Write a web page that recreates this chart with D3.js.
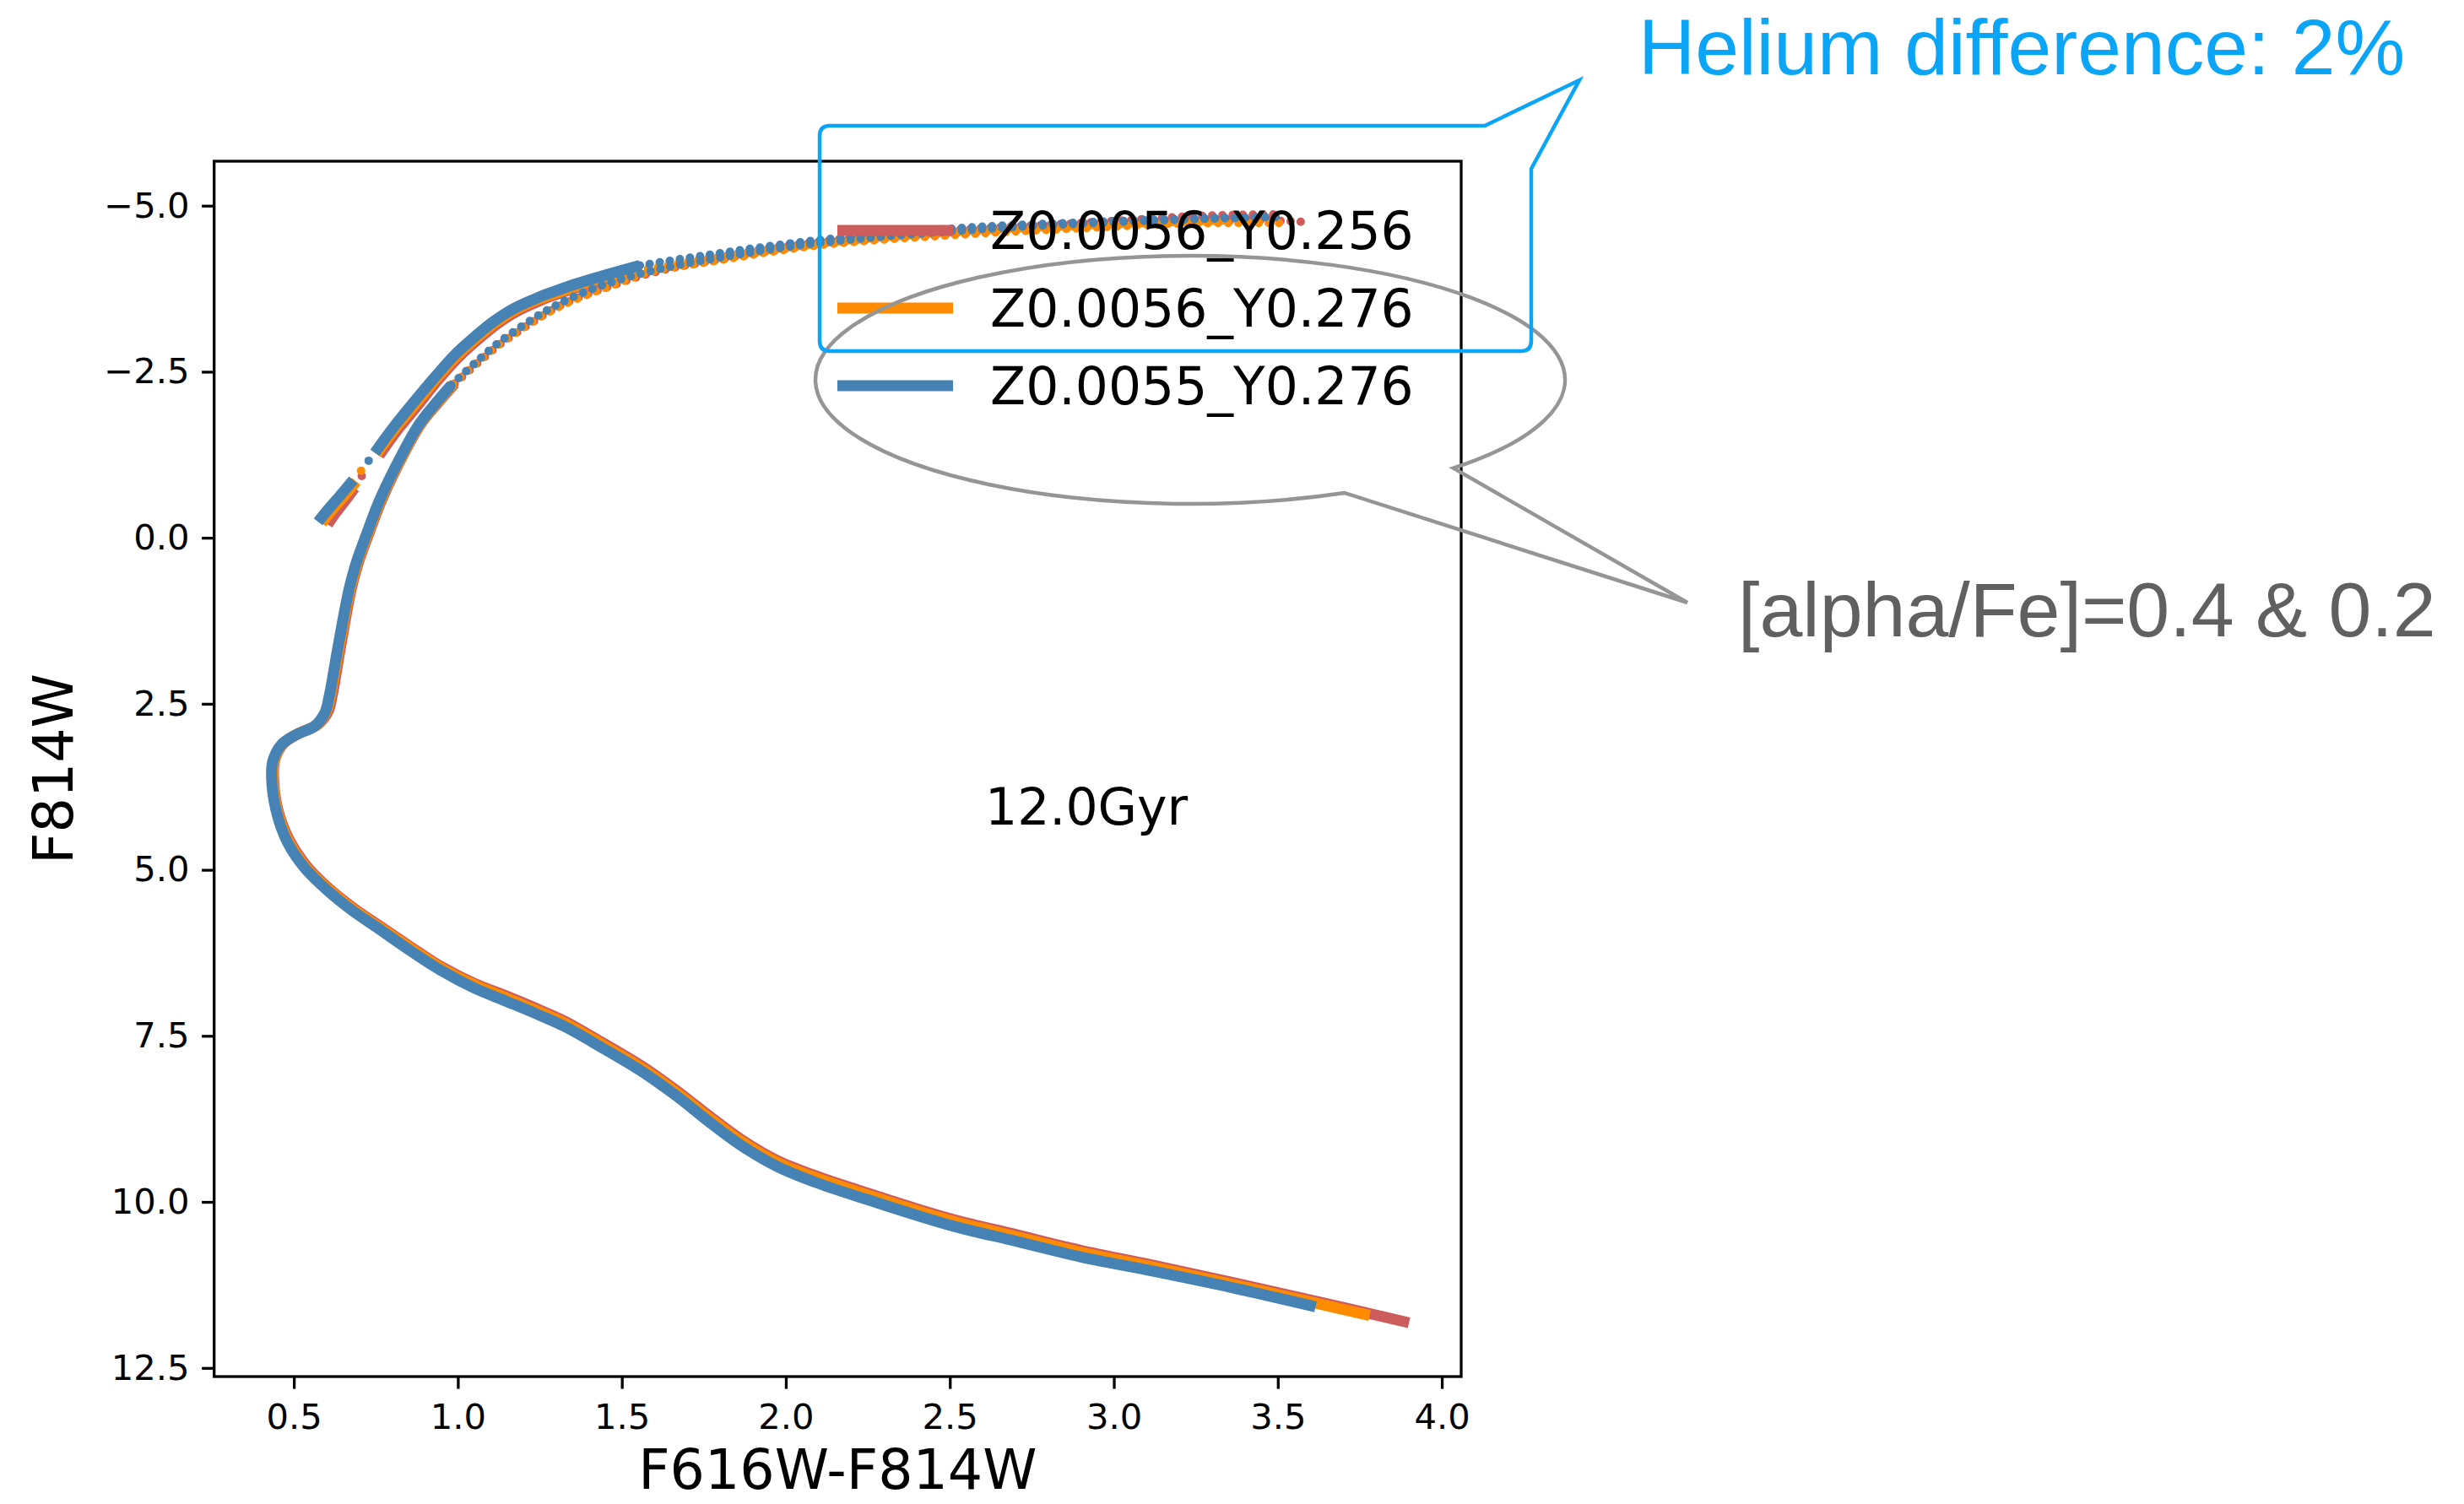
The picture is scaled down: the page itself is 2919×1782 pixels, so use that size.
<!DOCTYPE html>
<html>
<head>
<meta charset="utf-8">
<script src="https://cdn.jsdelivr.net/npm/d3@7"></script>
<style>
  html, body { margin: 0; padding: 0; background: #ffffff; }
  svg { display: block; }
</style>
</head>
<body>
<svg id="chart" width="2919" height="1782"></svg>
<script>
// ---------------------------------------------------------------------------
// Isochrone data: colour F616W-F814W (x) against magnitude F814W (y), 12 Gyr
// ---------------------------------------------------------------------------
const xTicks = [0.5, 1.0, 1.5, 2.0, 2.5, 3.0, 3.5, 4.0];
const yTicks = [-5.0, -2.5, 0.0, 2.5, 5.0, 7.5, 10.0, 12.5];
const seriesLabels = ["Z0.0056_Y0.256", "Z0.0056_Y0.276", "Z0.0055_Y0.276"];
const ageLabel = "12.0Gyr";

// Z0.0056_Y0.256 — main sequence, subgiant branch and lower red giant branch
const msrgb_Y256 = [
  [3.90, 11.82], [3.62, 11.50], [3.36, 11.21], [3.117, 10.95], [2.90, 10.73],
  [2.70, 10.49], [2.507, 10.26], [2.27, 9.90], [2.093, 9.61], [1.975, 9.38],
  [1.87, 9.08], [1.778, 8.75], [1.66, 8.30], [1.562, 7.96], [1.44, 7.60],
  [1.326, 7.28], [1.24, 7.09], [1.148, 6.90], [1.05, 6.71], [0.95, 6.46],
  [0.85, 6.14], [0.757, 5.83], [0.68, 5.57], [0.60, 5.25], [0.535, 4.92],
  [0.484, 4.53], [0.450, 4.07], [0.438, 3.60], [0.442, 3.34], [0.468, 3.10],
  [0.513, 2.95], [0.573, 2.81], [0.604, 2.62], [0.617, 2.37], [0.642, 1.65],
  [0.675, 0.77], [0.695, 0.40], [0.726, -0.03], [0.767, -0.56], [0.812, -1.04],
  [0.885, -1.70], [0.937, -2.02], [0.99, -2.32]
];
// upper red giant branch (sparse model points)
const upperRgb_Y256 = [
  [0.99, -2.32], [1.06, -2.63], [1.13, -2.92], [1.21, -3.19], [1.28, -3.41],
  [1.35, -3.58], [1.46, -3.78], [1.60, -4.00], [1.76, -4.16],
  [2.10, -4.42], [2.56, -4.60], [2.90, -4.69], [3.21, -4.75], [3.45, -4.78], [3.60, -4.75]
];
const hb_Y256 = [[0.603, -0.20], [0.625, -0.36], [0.655, -0.55], [0.685, -0.75]];
const hbGap_Y256 = [[0.707, -0.93]];
const agb_Y256 = [
  [0.76, -1.24], [0.812, -1.60], [0.875, -1.98], [0.94, -2.38], [1.00, -2.71],
  [1.06, -2.98], [1.12, -3.22], [1.18, -3.41], [1.255, -3.58], [1.315, -3.69],
  [1.375, -3.79], [1.46, -3.92], [1.52, -3.98]
];
const upperAgb_Y256 = [
  [1.52, -3.98], [1.76, -4.20], [2.10, -4.45], [2.56, -4.64], [2.90, -4.74],
  [3.28, -4.85], [3.51, -4.87]
];

// Z0.0056_Y0.276
const msrgb_Y276 = [
  [3.78, 11.71], [3.62, 11.53], [3.36, 11.24], [3.117, 10.98], [2.90, 10.76],
  [2.70, 10.52], [2.507, 10.29], [2.27, 9.93], [2.093, 9.64], [1.975, 9.41],
  [1.87, 9.11], [1.778, 8.78], [1.66, 8.33], [1.562, 7.99], [1.44, 7.63],
  [1.326, 7.31], [1.24, 7.12], [1.148, 6.93], [1.05, 6.73], [0.95, 6.48],
  [0.85, 6.16], [0.757, 5.85], [0.68, 5.59], [0.60, 5.27], [0.533, 4.94],
  [0.482, 4.55], [0.448, 4.08], [0.436, 3.60], [0.440, 3.35], [0.465, 3.11],
  [0.509, 2.96], [0.569, 2.82], [0.599, 2.62], [0.612, 2.37], [0.638, 1.65],
  [0.672, 0.77], [0.692, 0.40], [0.723, -0.03], [0.764, -0.56], [0.809, -1.03],
  [0.882, -1.69], [0.933, -2.01], [0.985, -2.31]
];
const upperRgb_Y276 = [
  [0.985, -2.31], [1.055, -2.62], [1.125, -2.91], [1.205, -3.18], [1.275, -3.39],
  [1.345, -3.56], [1.455, -3.77], [1.595, -4.01], [1.751, -4.14],
  [2.095, -4.40], [2.553, -4.57], [2.90, -4.66], [3.207, -4.73], [3.52, -4.74]
];
const hb_Y276 = [[0.585, -0.22], [0.61, -0.38], [0.65, -0.61], [0.69, -0.85]];
const hbGap_Y276 = [[0.705, -1.01]];
const agb_Y276 = [
  [0.752, -1.26], [0.805, -1.62], [0.868, -2.00], [0.935, -2.40], [0.995, -2.73],
  [1.055, -3.00], [1.115, -3.24], [1.175, -3.43], [1.25, -3.60], [1.31, -3.70],
  [1.37, -3.80], [1.46, -3.94], [1.52, -4.00]
];
const upperAgb_Y276 = [
  [1.52, -4.00], [1.75, -4.19], [2.10, -4.43], [2.55, -4.62], [2.90, -4.70],
  [3.20, -4.76], [3.35, -4.78]
];

// Z0.0055_Y0.276
const msrgb_Z0055 = [
  [3.615, 11.58], [3.36, 11.29], [3.117, 11.04], [2.90, 10.83], [2.70, 10.59],
  [2.507, 10.36], [2.27, 10.00], [2.093, 9.71], [1.975, 9.47], [1.87, 9.17],
  [1.778, 8.84], [1.66, 8.38], [1.562, 8.04], [1.44, 7.68], [1.326, 7.36],
  [1.24, 7.17], [1.148, 6.98], [1.05, 6.78], [0.95, 6.52], [0.85, 6.20],
  [0.757, 5.88], [0.68, 5.62], [0.60, 5.30], [0.531, 4.96], [0.479, 4.57],
  [0.445, 4.09], [0.432, 3.60], [0.436, 3.36], [0.461, 3.12], [0.505, 2.97],
  [0.565, 2.83], [0.595, 2.63], [0.608, 2.38], [0.634, 1.66], [0.668, 0.78],
  [0.688, 0.41], [0.719, -0.02], [0.760, -0.55], [0.805, -1.02], [0.878, -1.68],
  [0.928, -2.00], [0.98, -2.30]
];
const upperRgb_Z0055 = [
  [0.98, -2.30], [1.05, -2.62], [1.12, -2.92], [1.20, -3.20], [1.27, -3.42],
  [1.34, -3.60], [1.45, -3.82], [1.60, -4.03], [1.80, -4.22],
  [2.10, -4.44], [2.55, -4.63], [2.90, -4.73], [3.20, -4.79], [3.40, -4.82], [3.50, -4.83]
];
const hb_Z0055 = [[0.574, -0.24], [0.60, -0.40], [0.64, -0.63], [0.681, -0.87]];
const hbGap_Z0055 = [[0.728, -1.16]];
const agb_Z0055 = [
  [0.747, -1.28], [0.80, -1.64], [0.862, -2.02], [0.93, -2.42], [0.99, -2.75],
  [1.05, -3.02], [1.11, -3.26], [1.17, -3.45], [1.246, -3.62], [1.30, -3.72],
  [1.365, -3.83], [1.46, -3.97], [1.555, -4.10]
];
const upperAgb_Z0055 = [
  [1.555, -4.10], [1.751, -4.25], [2.095, -4.48], [2.553, -4.67], [2.86, -4.74],
  [3.207, -4.80], [3.38, -4.82]
];

// Callout texts
const heliumNote = "Helium difference: 2%";
const alphaNote = "[alpha/Fe]=0.4 & 0.2";

// ---------------------------------------------------------------------------
// Styling
// ---------------------------------------------------------------------------
const seriesColors = ["#cd5c5c", "#ff8c00", "#4682b4"];
const lineWidth = 13;
const dotSize = 10;
const tickFont = "'DejaVu Sans', sans-serif";

const series = [
  { label: seriesLabels[0], solid: [msrgb_Y256, hb_Y256, agb_Y256], dotted: [upperRgb_Y256, upperAgb_Y256], gap: hbGap_Y256 },
  { label: seriesLabels[1], solid: [msrgb_Y276, hb_Y276, agb_Y276], dotted: [upperRgb_Y276, upperAgb_Y276], gap: hbGap_Y276 },
  { label: seriesLabels[2], solid: [msrgb_Z0055, hb_Z0055, agb_Z0055], dotted: [upperRgb_Z0055, upperAgb_Z0055], gap: hbGap_Z0055 }
];

const svg = d3.select("#chart");
const plot = { left: 253.7, right: 1731, top: 191, bottom: 1631 };

const x = d3.scaleLinear().domain([0.257, 4.059]).range([plot.left, plot.right]);
// magnitudes: brighter (more negative) at the top
const y = d3.scaleLinear().domain([-5.67, 12.63]).range([plot.top, plot.bottom]);

svg.append("defs").append("clipPath").attr("id", "plot-clip")
  .append("rect")
  .attr("x", plot.left).attr("y", plot.top)
  .attr("width", plot.right - plot.left).attr("height", plot.bottom - plot.top);

const line = d3.line()
  .x(d => x(d[0]))
  .y(d => y(d[1]))
  .curve(d3.curveCatmullRom.alpha(0.5));

const marks = svg.append("g").attr("clip-path", "url(#plot-clip)");

series.forEach((s, i) => {
  const g = marks.append("g").attr("class", "series");
  s.solid.forEach(seg => {
    g.append("path")
      .attr("d", line(seg))
      .attr("fill", "none")
      .attr("stroke", seriesColors[i])
      .attr("stroke-width", lineWidth)
      .attr("stroke-linecap", "butt")
      .attr("stroke-linejoin", "round");
  });
  s.dotted.forEach(seg => {
    g.append("path")
      .attr("d", line(seg))
      .attr("fill", "none")
      .attr("stroke", seriesColors[i])
      .attr("stroke-width", dotSize)
      .attr("stroke-linecap", "round")
      .attr("stroke-dasharray", "0 12");
  });
  g.selectAll("circle.gap").data(s.gap).join("circle")
    .attr("class", "gap")
    .attr("cx", d => x(d[0]))
    .attr("cy", d => y(d[1]))
    .attr("r", dotSize / 2)
    .attr("fill", seriesColors[i]);
});

// ---------------------------------------------------------------------------
// Axes and frame
// ---------------------------------------------------------------------------
const tickLen = 14.6, tickPad = 14.6, spineW = 3.3;

const xAxis = d3.axisBottom(x)
  .tickValues(xTicks)
  .tickFormat(d3.format(".1f"))
  .tickSizeInner(tickLen).tickSizeOuter(0).tickPadding(tickPad);

const yAxis = d3.axisLeft(y)
  .tickValues(yTicks)
  .tickFormat(d3.format(".1f"))
  .tickSizeInner(tickLen).tickSizeOuter(0).tickPadding(tickPad);

const gx = svg.append("g").attr("transform", `translate(0,${plot.bottom})`).call(xAxis);
const gy = svg.append("g").attr("transform", `translate(${plot.left},0)`).call(yAxis);

[gx, gy].forEach(g => {
  g.select(".domain").remove();
  g.selectAll(".tick line").attr("stroke", "#000").attr("stroke-width", spineW);
  g.selectAll(".tick text")
    .attr("fill", "#000")
    .style("font-family", tickFont)
    .style("font-size", "41.67px");
});
gx.selectAll(".tick text").attr("dy", "0.79em");

svg.append("rect")
  .attr("x", plot.left).attr("y", plot.top)
  .attr("width", plot.right - plot.left).attr("height", plot.bottom - plot.top)
  .attr("fill", "none").attr("stroke", "#000").attr("stroke-width", spineW);

// axis titles
svg.append("text")
  .attr("x", (plot.left + plot.right) / 2).attr("y", 1764)
  .attr("text-anchor", "middle")
  .style("font-family", tickFont).style("font-size", "65px")
  .text("F616W-F814W");

svg.append("text")
  .attr("transform", `translate(86,${(plot.top + plot.bottom) / 2}) rotate(-90)`)
  .attr("text-anchor", "middle")
  .style("font-family", tickFont).style("font-size", "65px")
  .text("F814W");

// age annotation
svg.append("text")
  .attr("x", 1167).attr("y", 977)
  .style("font-family", tickFont).style("font-size", "60px")
  .text(ageLabel);

// ---------------------------------------------------------------------------
// Legend (no frame)
// ---------------------------------------------------------------------------
const legend = svg.append("g").attr("class", "legend");
const legendRows = [273, 365, 457];
seriesLabels.forEach((lab, i) => {
  legend.append("line")
    .attr("x1", 992).attr("x2", 1129)
    .attr("y1", legendRows[i]).attr("y2", legendRows[i])
    .attr("stroke", seriesColors[i]).attr("stroke-width", lineWidth);
  legend.append("text")
    .attr("x", 1173).attr("y", legendRows[i] + 21.5)
    .style("font-family", tickFont).style("font-size", "61.5px")
    .attr("fill", "#000")
    .text(lab);
});

// ---------------------------------------------------------------------------
// Callouts
// ---------------------------------------------------------------------------
const grey = "#959595";
const calloutBlue = "#0aa5f7";

// speech-bubble ellipse around the legend; the tail leaves the outline
// between two angles on the lower right
const ell = { cx: 1410, cy: 450, rx: 444, ry: 147 };
const onEllipse = deg => {
  const t = deg * Math.PI / 180;
  return [ell.cx + ell.rx * Math.cos(t), ell.cy + ell.ry * Math.sin(t)];
};
const tailA = onEllipse(45.4), tailB = onEllipse(65.7), tailTip = [1999, 714];
svg.append("path")
  .attr("d", `M${tailA[0]},${tailA[1]} A${ell.rx},${ell.ry} 0 1 0 ${tailB[0]},${tailB[1]} L${tailTip[0]},${tailTip[1]} Z`)
  .attr("fill", "none").attr("stroke", grey).attr("stroke-width", 4.5)
  .attr("stroke-linejoin", "miter");

svg.append("text")
  .attr("x", 2059).attr("y", 754)
  .attr("fill", "#606060")
  .style("font-family", "'Liberation Sans', Arial, sans-serif")
  .style("font-size", "91.5px")
  .text(alphaNote);

// rounded box with pointer
const bx0 = 971, by0 = 149, bx1 = 1814, by1 = 416, r = 12;
const boxPath = [
  `M${bx0 + r},${by0}`,
  `L1759,${by0}`,
  `L1871,95`,
  `L${bx1},200`,
  `L${bx1},${by1 - r}`,
  `Q${bx1},${by1} ${bx1 - r},${by1}`,
  `L${bx0 + r},${by1}`,
  `Q${bx0},${by1} ${bx0},${by1 - r}`,
  `L${bx0},${by0 + r}`,
  `Q${bx0},${by0} ${bx0 + r},${by0}`,
  "Z"
].join(" ");
svg.append("path")
  .attr("d", boxPath)
  .attr("fill", "none").attr("stroke", calloutBlue).attr("stroke-width", 4.5)
  .attr("stroke-linejoin", "miter");

svg.append("text")
  .attr("x", 1941).attr("y", 88)
  .attr("fill", calloutBlue)
  .style("font-family", "'Liberation Sans', Arial, sans-serif")
  .style("font-size", "93px")
  .text(heliumNote);
</script>
</body>
</html>
